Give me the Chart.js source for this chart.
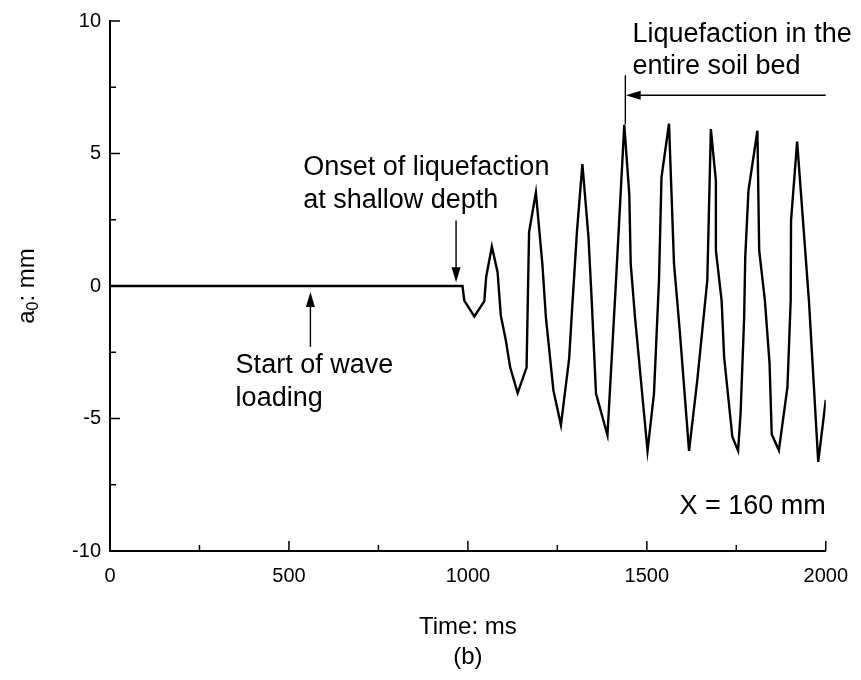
<!DOCTYPE html>
<html>
<head>
<meta charset="utf-8">
<script src="https://cdn.jsdelivr.net/npm/chart.js@4/dist/chart.umd.min.js"></script>
<style>
  html, body { margin: 0; padding: 0; background: #fff; }
</style>
</head>
<body>
<canvas id="myChart" width="861" height="680"></canvas>
<script>
// values: time (ms) and displacement a0 (mm)
var timeMs = [0, 985, 990, 1018, 1046, 1051, 1067, 1083, 1092, 1106, 1118, 1139, 1164, 1171, 1190,
  1208, 1218, 1239, 1260, 1283, 1291, 1305, 1320, 1337, 1346, 1358, 1390, 1414, 1437, 1451,
  1455, 1467, 1502, 1520, 1534, 1541, 1562, 1576, 1592, 1618, 1641, 1669, 1679, 1693, 1693,
  1709, 1716, 1739, 1755, 1762, 1772, 1775, 1784, 1809, 1814, 1830, 1843, 1849, 1869,
  1893, 1902, 1903, 1920, 1953, 1979, 2000];
var dispMm = [0, 0, -0.55, -1.15, -0.57, 0.33, 1.49, 0.52, -1.11, -2.05, -3.06, -4.04, -3.08, 2.03, 3.53,
  0.85, -1.18, -3.94, -5.25, -2.74, -0.92, 2.09, 4.6, 1.84, -0.55, -4.06, -5.63, 0.21, 6.08, 3.47,
  0.84, -1.18, -6.22, -4.06, 0.21, 4.1, 6.13, 0.84, -1.68, -6.22, -3.56, 0.21, 5.92, 3.97, 1.34,
  -0.55, -2.68, -5.69, -6.22, -4.81, -1.18, 1.08, 3.6, 5.86, 1.34, -0.55, -2.93, -5.59, -6.2,
  -3.81, -0.55, 2.47, 5.45, -0.55, -6.64, -4.3];

var xTicks = [0, 500, 1000, 1500, 2000];
var xMinor = [250, 750, 1250, 1750];
var yTicks = [-10, -5, 0, 5, 10];
var yMinor = [-7.5, -2.5, 2.5, 7.5];

var FONT = "Arial, 'Liberation Sans', Helvetica, sans-serif";

var points = [];
for (var i = 0; i < timeMs.length; i++) {
  points.push({ x: timeMs[i], y: dispMm[i] });
}

function arrow(ctx, x1, y1, x2, y2) {
  // line from (x1,y1) to tip at (x2,y2)
  var ang = Math.atan2(y2 - y1, x2 - x1);
  var len = 15, half = 4.5;
  ctx.beginPath();
  ctx.moveTo(x1, y1);
  ctx.lineTo(x2 - Math.cos(ang) * (len - 2), y2 - Math.sin(ang) * (len - 2));
  ctx.stroke();
  ctx.beginPath();
  ctx.moveTo(x2, y2);
  ctx.lineTo(x2 - Math.cos(ang) * len - Math.sin(ang) * half, y2 - Math.sin(ang) * len + Math.cos(ang) * half);
  ctx.lineTo(x2 - Math.cos(ang) * len + Math.sin(ang) * half, y2 - Math.sin(ang) * len - Math.cos(ang) * half);
  ctx.closePath();
  ctx.fill();
}

var overlay = {
  id: "overlay",
  afterDraw: function(chart) {
    var ctx = chart.ctx;
    var xs = chart.scales.x;
    var ys = chart.scales.y;
    var area = chart.chartArea;
    ctx.save();
    ctx.strokeStyle = "#000";
    ctx.fillStyle = "#000";

    // inward tick marks
    ctx.lineWidth = 1.5;
    ctx.beginPath();
    xTicks.forEach(function(v) {
      var p = xs.getPixelForValue(v);
      ctx.moveTo(p, area.bottom);
      ctx.lineTo(p, area.bottom - 10);
    });
    xMinor.forEach(function(v) {
      var p = xs.getPixelForValue(v);
      ctx.moveTo(p, area.bottom);
      ctx.lineTo(p, area.bottom - 6);
    });
    yTicks.forEach(function(v) {
      var p = ys.getPixelForValue(v);
      ctx.moveTo(area.left, p);
      ctx.lineTo(area.left + 10, p);
    });
    yMinor.forEach(function(v) {
      var p = ys.getPixelForValue(v);
      ctx.moveTo(area.left, p);
      ctx.lineTo(area.left + 6, p);
    });
    ctx.stroke();

    // axis titles
    var cx = (area.left + area.right) / 2;
    ctx.font = "24px " + FONT;
    ctx.textAlign = "center";
    ctx.textBaseline = "middle";
    ctx.fillText("Time: ms", cx, 627);
    ctx.fillText("(b)", cx, 657);

    ctx.save();
    ctx.translate(27, ys.getPixelForValue(0));
    ctx.rotate(-Math.PI / 2);
    ctx.textAlign = "left";
    ctx.font = "24px " + FONT;
    var wA = ctx.measureText("a").width;
    var wR = ctx.measureText(": mm").width;
    ctx.font = "16px " + FONT;
    var wS = ctx.measureText("0").width;
    var start = -(wA + wS + wR) / 2;
    ctx.font = "24px " + FONT;
    ctx.fillText("a", start, 0);
    ctx.font = "16px " + FONT;
    ctx.fillText("0", start + wA, 7);
    ctx.font = "24px " + FONT;
    ctx.fillText(": mm", start + wA + wS, 0);
    ctx.restore();

    // annotations
    ctx.font = "27px " + FONT;
    ctx.textAlign = "left";
    ctx.textBaseline = "middle";
    ctx.fillText("Onset of liquefaction", xs.getPixelForValue(540), ys.getPixelForValue(4.46));
    ctx.fillText("at shallow depth", xs.getPixelForValue(540), ys.getPixelForValue(3.22));
    ctx.fillText("Start of wave", xs.getPixelForValue(351), ys.getPixelForValue(-3.0));
    ctx.fillText("loading", xs.getPixelForValue(351), ys.getPixelForValue(-4.24));
    ctx.fillText("Liquefaction in the", xs.getPixelForValue(1460), ys.getPixelForValue(9.5));
    ctx.fillText("entire soil bed", xs.getPixelForValue(1460), ys.getPixelForValue(8.3));
    ctx.textAlign = "right";
    ctx.fillText("X = 160 mm", xs.getPixelForValue(2000), ys.getPixelForValue(-8.34));

    ctx.lineWidth = 1.4;
    arrow(ctx, xs.getPixelForValue(967), ys.getPixelForValue(2.47), xs.getPixelForValue(967), ys.getPixelForValue(0.14));
    arrow(ctx, xs.getPixelForValue(560), ys.getPixelForValue(-2.3), xs.getPixelForValue(560), ys.getPixelForValue(-0.23));
    arrow(ctx, xs.getPixelForValue(2000), ys.getPixelForValue(7.2), xs.getPixelForValue(1441), ys.getPixelForValue(7.2));
    ctx.beginPath();
    ctx.moveTo(xs.getPixelForValue(1440), ys.getPixelForValue(7.95));
    ctx.lineTo(xs.getPixelForValue(1440), ys.getPixelForValue(6.1));
    ctx.stroke();

    ctx.restore();
  }
};

var ctx = document.getElementById("myChart").getContext("2d");
var chart = new Chart(ctx, {
  type: "line",
  data: {
    datasets: [
      {
        label: "a0",
        data: points,
        borderColor: "#000",
        borderWidth: 2.4,
        pointRadius: 0,
        tension: 0,
        fill: false
      }
    ]
  },
  options: {
    responsive: false,
    animation: false,
    devicePixelRatio: 1,
    layout: { padding: { top: 20, right: 34, left: 0, bottom: 0 } },
    plugins: {
      legend: { display: false },
      tooltip: { enabled: false }
    },
    scales: {
      x: {
        type: "linear",
        min: 0,
        max: 2000,
        afterBuildTicks: function(s) {
          s.ticks = xTicks.map(function(v) { return { value: v }; });
        },
        afterFit: function(s) { s.height = 129; },
        grid: { display: false, drawTicks: false },
        border: { display: true, color: "#000", width: 2 },
        ticks: {
          color: "#000",
          padding: 13,
          maxRotation: 0,
          font: { family: FONT, size: 20 },
          callback: function(v) { return String(v); }
        }
      },
      y: {
        type: "linear",
        min: -10,
        max: 10,
        afterBuildTicks: function(s) {
          s.ticks = yTicks.map(function(v) { return { value: v }; });
        },
        afterFit: function(s) { s.width = 110; },
        grid: { display: false, drawTicks: false },
        border: { display: true, color: "#000", width: 2 },
        ticks: {
          color: "#000",
          padding: 9,
          font: { family: FONT, size: 20 },
          callback: function(v) { return String(v); }
        }
      }
    }
  },
  plugins: [overlay]
});
</script>
</body>
</html>
